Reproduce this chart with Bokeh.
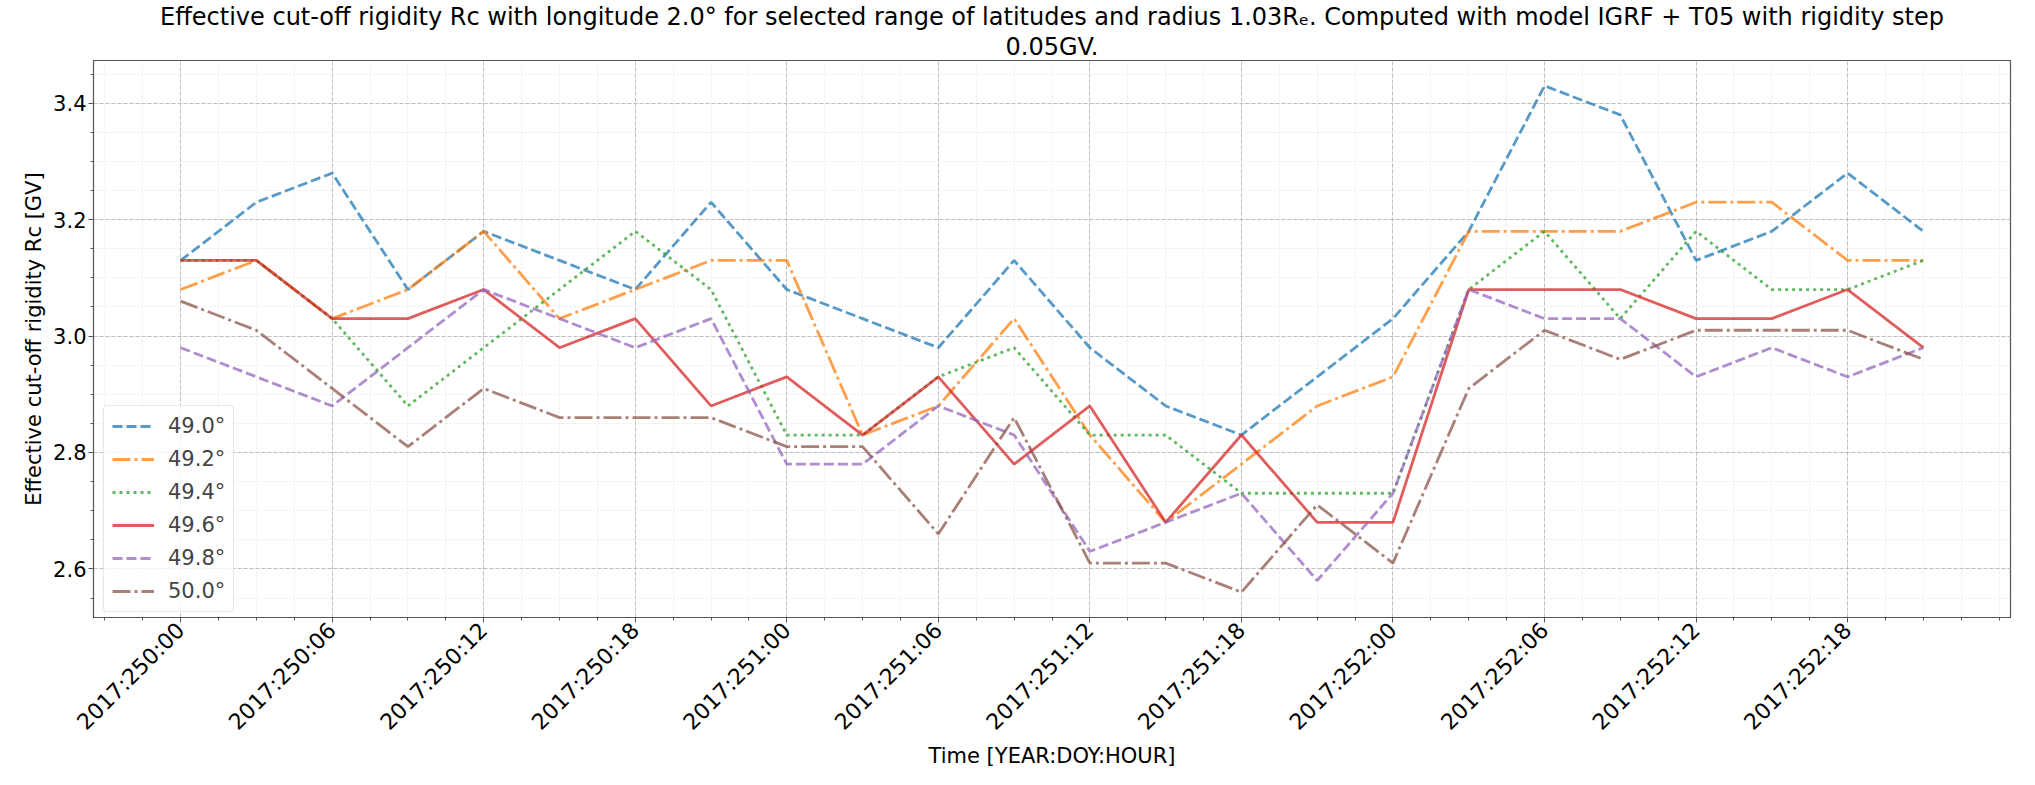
import numpy as np
from bokeh.plotting import figure
from bokeh.models import (Range1d, FixedTicker, Legend, LegendItem, PrintfTickFormatter, Title)
from bokeh.embed import file_html
from bokeh.resources import INLINE

times = ["2017:250:00", "2017:250:03", "2017:250:06", "2017:250:09", "2017:250:12", "2017:250:15",
         "2017:250:18", "2017:250:21", "2017:251:00", "2017:251:03", "2017:251:06", "2017:251:09",
         "2017:251:12", "2017:251:15", "2017:251:18", "2017:251:21", "2017:252:00", "2017:252:03",
         "2017:252:06", "2017:252:09", "2017:252:12", "2017:252:15", "2017:252:18", "2017:252:21"]

tick_labels = ["2017:250:00", "2017:250:06", "2017:250:12", "2017:250:18", "2017:251:00", "2017:251:06",
               "2017:251:12", "2017:251:18", "2017:252:00", "2017:252:06", "2017:252:12", "2017:252:18"]

lat_labels = ["49.0°", "49.2°", "49.4°", "49.6°", "49.8°", "50.0°"]

rc_490 = [3.13, 3.23, 3.28, 3.08, 3.18, 3.13, 3.08, 3.23, 3.08, 3.03, 2.98, 3.13,
          2.98, 2.88, 2.83, 2.93, 3.03, 3.18, 3.43, 3.38, 3.13, 3.18, 3.28, 3.18]
rc_492 = [3.08, 3.13, 3.03, 3.08, 3.18, 3.03, 3.08, 3.13, 3.13, 2.83, 2.88, 3.03,
          2.83, 2.68, 2.78, 2.88, 2.93, 3.18, 3.18, 3.18, 3.23, 3.23, 3.13, 3.13]
rc_494 = [3.13, 3.13, 3.03, 2.88, 2.98, 3.08, 3.18, 3.08, 2.83, 2.83, 2.93, 2.98,
          2.83, 2.83, 2.73, 2.73, 2.73, 3.08, 3.18, 3.03, 3.18, 3.08, 3.08, 3.13]
rc_496 = [3.13, 3.13, 3.03, 3.03, 3.08, 2.98, 3.03, 2.88, 2.93, 2.83, 2.93, 2.78,
          2.88, 2.68, 2.83, 2.68, 2.68, 3.08, 3.08, 3.08, 3.03, 3.03, 3.08, 2.98]
rc_498 = [2.98, 2.93, 2.88, 2.98, 3.08, 3.03, 2.98, 3.03, 2.78, 2.78, 2.88, 2.83,
          2.63, 2.68, 2.73, 2.58, 2.73, 3.08, 3.03, 3.03, 2.93, 2.98, 2.93, 2.98]
rc_500 = [3.06, 3.01, 2.91, 2.81, 2.91, 2.86, 2.86, 2.86, 2.81, 2.81, 2.66, 2.86,
          2.61, 2.61, 2.56, 2.71, 2.61, 2.91, 3.01, 2.96, 3.01, 3.01, 3.01, 2.96]

series = [rc_490, rc_492, rc_494, rc_496, rc_498, rc_500]


def to_hours(t):
    _, doy, hr = t.split(":")
    return (int(doy) - 250) * 24 + int(hr)


x = [to_hours(t) for t in times]
tick_pos = [to_hours(t) for t in tick_labels]

FONT = "DejaVu Sans"
FS = "21px"
colors = ["#1f77b4", "#ff7f0e", "#2ca02c", "#d62728", "#9467bd", "#8c564b"]
dashes = ["10 4", "18 4 3 4", "3 4", "solid", "10 4", "18 4 3 4"]

xmin, xmax = min(x), max(x)
xpad = (xmax - xmin) * 0.05
allv = [v for s in series for v in s]
ymin, ymax = min(allv), max(allv)
ypad = (ymax - ymin) * 0.05

p = figure(width=2035, height=785, output_backend="svg", toolbar_location=None,
           x_range=Range1d(xmin - xpad, xmax + xpad), y_range=Range1d(ymin - ypad, ymax + ypad),
           min_border_left=93, min_border_right=25, min_border_top=53, min_border_bottom=168)

title_lines = ["Effective cut-off rigidity Rᴄ with longitude 2.0° for selected range of latitudes and radius "
               "1.03Rₑ. Computed with model IGRF + T05 with rigidity step",
               "0.05GV."]
p.title.text = title_lines[0]
p.title.align = "center"
p.title.text_font = FONT
p.title.text_font_size = "24px"
p.title.text_font_style = "normal"
p.title.text_color = "black"
p.title.text_line_height = 0.9
p.title.standoff = 0
p.add_layout(Title(text=title_lines[1], align="center", text_font=FONT, text_font_size="24px",
                   text_font_style="normal", text_color="black", text_line_height=0.9,
                   standoff=0), "above")

renderers = []
for s, c, d in zip(series, colors, dashes):
    r = p.line(x, s, line_color=c, line_alpha=0.75, line_width=2.8, line_dash=d)
    renderers.append(r)

legend = Legend(items=[LegendItem(label=l, renderers=[r]) for l, r in zip(lat_labels, renderers)],
                location=(10, 5))
legend.label_text_font = FONT
legend.label_text_font_size = FS
legend.glyph_width = 42
legend.glyph_height = 22
legend.label_height = 22
legend.spacing = 9
legend.padding = 8
legend.margin = 0
legend.label_standoff = 14
legend.border_line_color = "#d0d0d0"
legend.background_fill_alpha = 0.8
legend.border_radius = 4
p.add_layout(legend)

p.xaxis.ticker = FixedTicker(ticks=tick_pos, minor_ticks=list(np.arange(-3, 72.1, 1.5)))
p.xaxis.major_label_overrides = {tp: lab for tp, lab in zip(tick_pos, tick_labels)}
p.xaxis.major_label_orientation = np.pi / 4
p.yaxis.ticker = FixedTicker(ticks=[2.6, 2.8, 3.0, 3.2, 3.4],
                             minor_ticks=list(np.round(np.arange(2.55, 3.46, 0.05), 2)))
p.yaxis.formatter = PrintfTickFormatter(format="%.1f")

p.xaxis.axis_label = "Time [YEAR:DOY:HOUR]"
p.yaxis.axis_label = "Effective cut-off rigidity Rᴄ [GV]"

for ax in [p.xaxis[0], p.yaxis[0]]:
    ax.axis_label_text_font = FONT
    ax.axis_label_text_font_size = FS
    ax.axis_label_text_font_style = "normal"
    ax.major_label_text_font = FONT
    ax.major_label_text_font_size = FS
    ax.major_tick_out = 5
    ax.major_tick_in = 0
    ax.minor_tick_out = 3
    ax.minor_tick_in = 0
    ax.axis_line_color = "#555555"
    ax.major_tick_line_color = "#555555"
    ax.minor_tick_line_color = "#555555"
    ax.major_label_text_color = "black"
    ax.axis_label_text_color = "black"

p.xaxis.major_label_text_font_size = "22px"
p.xaxis.major_label_standoff = 4
p.xaxis.axis_label_standoff = -3
p.yaxis.major_label_standoff = 2
p.yaxis.axis_label_standoff = 4

p.outline_line_color = "#555555"
p.outline_line_width = 1.2

for g in [p.xgrid[0], p.ygrid[0]]:
    g.grid_line_color = "#b0b0b0"
    g.grid_line_alpha = 0.8
    g.grid_line_dash = "4 2"
    g.grid_line_width = 1
    g.minor_grid_line_color = "#dddddd"
    g.minor_grid_line_alpha = 0.7
    g.minor_grid_line_dash = "2 2"
    g.minor_grid_line_width = 0.8

open("out.html", "w").write(file_html(p, INLINE))
